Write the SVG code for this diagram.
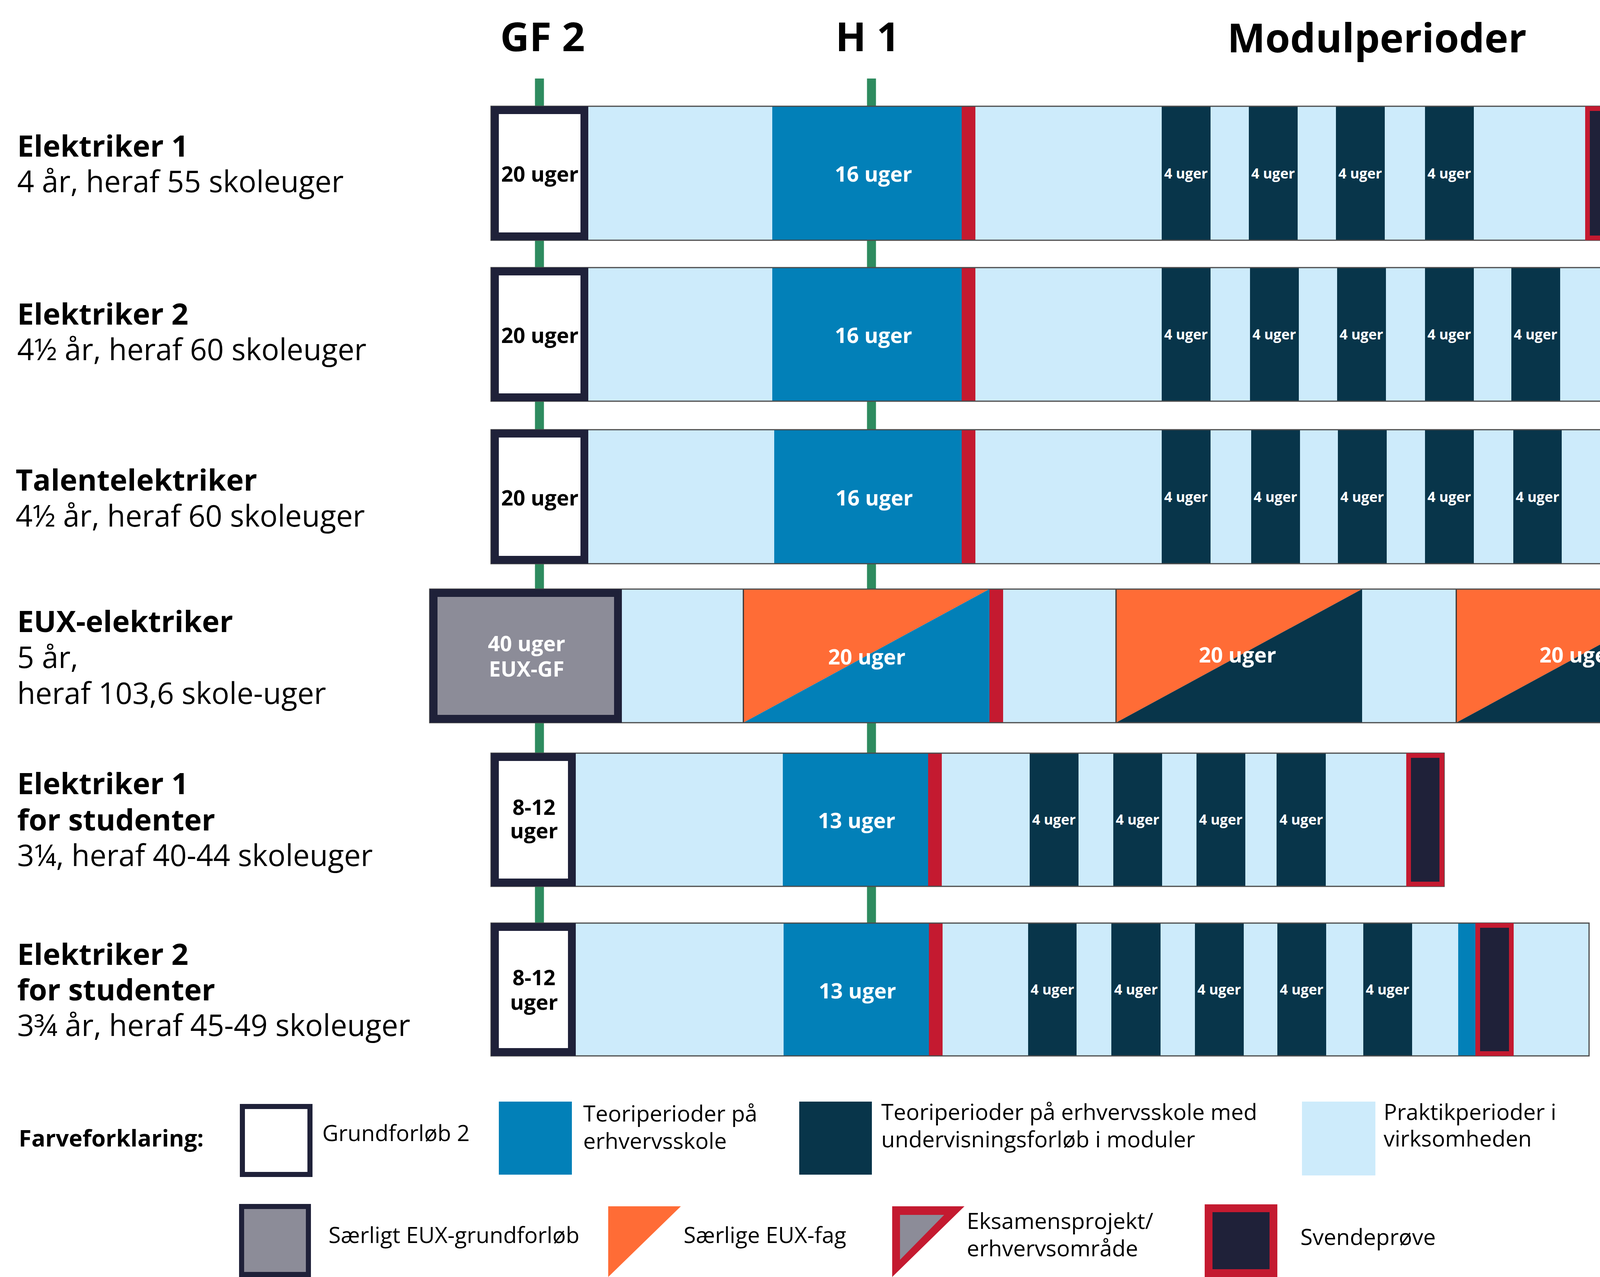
<svg xmlns="http://www.w3.org/2000/svg" width="5142" height="3269" viewBox="0 0 5142 3269">
<style>
  text { font-family: "Open Sans", "Noto Sans", "DejaVu Sans", sans-serif; }
  .hdr { font-size: 103px; font-weight: 700; fill: #000; text-anchor: middle; }
  .lb { font-size: 76px; font-weight: 700; fill: #000; }
  .lr { font-size: 76px; font-weight: 400; fill: #000; }
  .bk { font-size: 54px; font-weight: 700; fill: #000; text-anchor: middle; }
  .bw { font-size: 54px; font-weight: 700; fill: #fff; text-anchor: middle; }
  .mw { font-size: 36px; font-weight: 700; fill: #fff; text-anchor: middle; }
  .lg { font-size: 57px; font-weight: 400; fill: #000; }
  .lgb { font-size: 59px; font-weight: 700; fill: #000; }
  .pr { fill: #CDEBFB; }
  .te { fill: #0280B8; }
  .mo { fill: #08354A; }
  .rd { fill: #C41A30; }
  .nv { fill: #1F2139; }
  .or { fill: #FF6C36; }
  .gy { fill: #8C8C98; }
  .gf { fill: #fff; stroke: #1F2139; stroke-width: 20; }
  .eg { fill: #8C8C98; stroke: #1F2139; stroke-width: 20; }
  .sv { fill: #1F2139; stroke: #C41A30; stroke-width: 12; }
  .ol { fill: none; stroke: #4a4a4a; stroke-width: 3; }
  .edge { stroke: #333; stroke-width: 3; }
  .green { stroke: #2E8B5F; stroke-width: 23; }
  .lead { fill: none; stroke: #8a8a8a; stroke-width: 3; marker-end: url(#arr); }
</style>
<defs>
  <marker id="arr" viewBox="0 0 30 20" refX="30" refY="10" markerWidth="30" markerHeight="20" markerUnits="userSpaceOnUse" orient="auto">
    <path d="M0,0 L30,10 L0,20 z" fill="#000"/>
  </marker>
</defs>
<rect x="0" y="0" width="5142" height="3269" fill="#fff"/>

<g id="headers">
  <text class="hdr" x="1389" y="131">GF 2</text>
  <text class="hdr" x="2221" y="131">H 1</text>
  <text class="hdr" x="3525" y="134">Modulperioder</text>
</g>

<g id="connectors">
  <line class="green" x1="1381" y1="201" x2="1381" y2="2363"/>
  <line class="green" x1="2231" y1="201" x2="2231" y2="2363"/>
  <polyline class="lead" points="4335,180 4116,180 4116,252"/>
  <polyline class="lead" points="4433,628 4247,628 4247,679"/>
</g>

<g id="row-elektriker1">
  <text class="lb" x="44" y="401">Elektriker 1</text>
  <text class="lr" x="44" y="492">4 år, heraf 55 skoleuger</text>
  <rect class="pr" x="1257" y="272" width="3000" height="343"/>
  <rect class="te" x="1977" y="272" width="485" height="343"/>
  <rect class="rd" x="2462" y="272" width="35" height="343"/>
  <rect class="mo" x="2974" y="272" width="125" height="343"/>
  <rect class="mo" x="3197" y="272" width="125" height="343"/>
  <rect class="mo" x="3420" y="272" width="125" height="343"/>
  <rect class="mo" x="3648" y="272" width="125" height="343"/>
  <rect class="ol" x="1257" y="272" width="3000" height="343"/>
  <rect class="gf" x="1267" y="282" width="229" height="323"/>
  <rect class="sv" x="4064" y="278" width="89" height="331"/>
  <text class="bk" x="1382" y="465">20 uger</text>
  <text class="bw" x="2236" y="465">16 uger</text>
  <text class="mw" x="3036" y="457">4 uger</text>
  <text class="mw" x="3259" y="457">4 uger</text>
  <text class="mw" x="3482" y="457">4 uger</text>
  <text class="mw" x="3710" y="457">4 uger</text>
  <text class="lr" x="4362" y="209">Svendeprøve 3 uger</text>
</g>

<g id="row-elektriker2">
  <text class="lb" x="44" y="831">Elektriker 2</text>
  <text class="lr" x="44" y="922">4½ år, heraf 60 skoleuger</text>
  <rect class="pr" x="1257" y="685" width="3373" height="342"/>
  <rect class="te" x="1977" y="685" width="485" height="342"/>
  <rect class="rd" x="2462" y="685" width="35" height="342"/>
  <rect class="mo" x="2974" y="685" width="125" height="342"/>
  <rect class="mo" x="3200" y="685" width="125" height="342"/>
  <rect class="mo" x="3423" y="685" width="125" height="342"/>
  <rect class="mo" x="3648" y="685" width="125" height="342"/>
  <rect class="mo" x="3869" y="685" width="125" height="342"/>
  <rect class="te" x="4225" y="685" width="42" height="342"/>
  <rect class="ol" x="1257" y="685" width="3373" height="342"/>
  <rect class="gf" x="1267" y="695" width="229" height="322"/>
  <rect class="sv" x="4273" y="691" width="90" height="330"/>
  <text class="bk" x="1382" y="878">20 uger</text>
  <text class="bw" x="2236" y="878">16 uger</text>
  <text class="mw" x="3036" y="869">4 uger</text>
  <text class="mw" x="3262" y="869">4 uger</text>
  <text class="mw" x="3485" y="869">4 uger</text>
  <text class="mw" x="3710" y="869">4 uger</text>
  <text class="mw" x="3931" y="869">4 uger</text>
  <text class="lr" x="4456" y="513">Udvikling og</text>
  <text class="lr" x="4456" y="601">planlægning 1 uge</text>
</g>

<g id="row-talentelektriker">
  <text class="lb" x="40" y="1256">Talentelektriker</text>
  <text class="lr" x="40" y="1348">4½ år, heraf 60 skoleuger</text>
  <rect class="pr" x="1257" y="1100" width="3373" height="343"/>
  <rect class="te" x="1982" y="1100" width="480" height="343"/>
  <rect class="rd" x="2462" y="1100" width="35" height="343"/>
  <rect class="mo" x="2974" y="1100" width="125" height="343"/>
  <rect class="mo" x="3203" y="1100" width="125" height="343"/>
  <rect class="mo" x="3425" y="1100" width="125" height="343"/>
  <rect class="mo" x="3648" y="1100" width="125" height="343"/>
  <rect class="mo" x="3874" y="1100" width="124" height="343"/>
  <rect class="te" x="4229" y="1100" width="42" height="343"/>
  <rect class="ol" x="1257" y="1100" width="3373" height="343"/>
  <rect class="gf" x="1267" y="1110" width="229" height="323"/>
  <rect class="sv" x="4277" y="1106" width="89" height="331"/>
  <text class="bk" x="1382" y="1294">20 uger</text>
  <text class="bw" x="2238" y="1294">16 uger</text>
  <text class="mw" x="3036" y="1285">4 uger</text>
  <text class="mw" x="3265" y="1285">4 uger</text>
  <text class="mw" x="3487" y="1285">4 uger</text>
  <text class="mw" x="3710" y="1285">4 uger</text>
  <text class="mw" x="3936" y="1285">4 uger</text>
</g>

<g id="row-eux">
  <text class="lb" x="44" y="1618">EUX-elektriker</text>
  <text class="lr" x="44" y="1710">5 år,</text>
  <text class="lr" x="44" y="1802">heraf 103,6 skole-uger</text>
  <rect class="pr" x="1100" y="1508" width="3750" height="342"/>
  <polygon class="or" points="1903,1508 2533,1508 1903,1850"/>
  <polygon class="te" points="2533,1508 2533,1850 1903,1850"/>
  <line class="edge" x1="1903" y1="1508" x2="1903" y2="1850"/>
  <rect class="rd" x="2533" y="1508" width="35" height="342"/>
  <polygon class="or" points="2857,1508 3487,1508 2857,1850"/>
  <polygon class="mo" points="3487,1508 3487,1850 2857,1850"/>
  <line class="edge" x1="2857" y1="1508" x2="2857" y2="1850"/>
  <polygon class="or" points="3728,1508 4358,1508 3728,1850"/>
  <polygon class="mo" points="4358,1508 4358,1850 3728,1850"/>
  <line class="edge" x1="3728" y1="1508" x2="3728" y2="1850"/>
  <polygon class="gy" points="4595,1530 4828,1530 4595,1828"/>
  <polygon class="nv" points="4828,1530 4828,1828 4595,1828"/>
  <rect x="4584" y="1519" width="255" height="320" fill="none" stroke="#C41A30" stroke-width="22"/>
  <rect class="ol" x="1100" y="1508" width="3750" height="342"/>
  <rect class="eg" x="1110" y="1518" width="472" height="322"/>
  <text class="bw" x="1348" y="1667">40 uger</text>
  <text class="bw" x="1348" y="1732">EUX-GF</text>
  <text class="bw" x="2219" y="1701">20 uger</text>
  <text class="bw" x="3168" y="1696">20 uger</text>
  <text class="bw" x="4040" y="1696">20 uger</text>
  <text class="bw" x="4708" y="1671">3,6</text>
  <text class="bw" x="4708" y="1735">uger</text>
</g>

<g id="row-elektriker1-studenter">
  <text class="lb" x="44" y="2033">Elektriker 1</text>
  <text class="lb" x="44" y="2126">for studenter</text>
  <text class="lr" x="44" y="2217">3¼, heraf 40-44 skoleuger</text>
  <rect class="pr" x="1257" y="1928" width="2440" height="341"/>
  <rect class="te" x="2004" y="1928" width="372" height="341"/>
  <rect class="rd" x="2376" y="1928" width="35" height="341"/>
  <rect class="mo" x="2636" y="1928" width="125" height="341"/>
  <rect class="mo" x="2850" y="1928" width="125" height="341"/>
  <rect class="mo" x="3063" y="1928" width="125" height="341"/>
  <rect class="mo" x="3268" y="1928" width="126" height="341"/>
  <rect class="ol" x="1257" y="1928" width="2440" height="341"/>
  <rect class="gf" x="1267" y="1938" width="197" height="321"/>
  <rect class="sv" x="3606" y="1934" width="85" height="329"/>
  <text class="bk" x="1367" y="2086">8-12</text>
  <text class="bk" x="1367" y="2146">uger</text>
  <text class="bw" x="2193" y="2120">13 uger</text>
  <text class="mw" x="2698" y="2111">4 uger</text>
  <text class="mw" x="2912" y="2111">4 uger</text>
  <text class="mw" x="3125" y="2111">4 uger</text>
  <text class="mw" x="3331" y="2111">4 uger</text>
</g>

<g id="row-elektriker2-studenter">
  <text class="lb" x="44" y="2470">Elektriker 2</text>
  <text class="lb" x="44" y="2561">for studenter</text>
  <text class="lr" x="44" y="2652">3¾ år, heraf 45-49 skoleuger</text>
  <rect class="pr" x="1257" y="2363" width="2811" height="340"/>
  <rect class="te" x="2006" y="2363" width="372" height="340"/>
  <rect class="rd" x="2378" y="2363" width="35" height="340"/>
  <rect class="mo" x="2632" y="2363" width="124" height="340"/>
  <rect class="mo" x="2845" y="2363" width="126" height="340"/>
  <rect class="mo" x="3059" y="2363" width="125" height="340"/>
  <rect class="mo" x="3270" y="2363" width="125" height="340"/>
  <rect class="mo" x="3490" y="2363" width="125" height="340"/>
  <rect class="te" x="3733" y="2363" width="44" height="340"/>
  <rect class="ol" x="1257" y="2363" width="2811" height="340"/>
  <rect class="gf" x="1267" y="2373" width="197" height="320"/>
  <rect class="sv" x="3783" y="2369" width="86" height="328"/>
  <text class="bk" x="1367" y="2522">8-12</text>
  <text class="bk" x="1367" y="2585">uger</text>
  <text class="bw" x="2195" y="2556">13 uger</text>
  <text class="mw" x="2694" y="2546">4 uger</text>
  <text class="mw" x="2908" y="2546">4 uger</text>
  <text class="mw" x="3121" y="2546">4 uger</text>
  <text class="mw" x="3332" y="2546">4 uger</text>
  <text class="mw" x="3552" y="2546">4 uger</text>
</g>

<g id="legend">
  <text class="lgb" x="48" y="2935">Farveforklaring:</text>
  <rect x="620.5" y="2832.5" width="173" height="174" fill="#fff" stroke="#1F2139" stroke-width="13"/>
  <text class="lg" x="825" y="2921">Grundforløb 2</text>
  <rect class="te" x="1277" y="2820" width="187" height="187"/>
  <text class="lg" x="1493" y="2871">Teoriperioder på</text>
  <text class="lg" x="1493" y="2941">erhvervsskole</text>
  <rect class="mo" x="2046" y="2820" width="186" height="187"/>
  <text class="lg" x="2256" y="2867">Teoriperioder på erhvervsskole med</text>
  <text class="lg" x="2256" y="2937">undervisningsforløb i moduler</text>
  <rect class="pr" x="3333" y="2820" width="188" height="189"/>
  <text class="lg" x="3542" y="2867">Praktikperioder i</text>
  <text class="lg" x="3542" y="2935">virksomheden</text>
  <rect x="618.5" y="3088.5" width="171" height="174" fill="#8C8C98" stroke="#1F2139" stroke-width="13"/>
  <text class="lg" x="841" y="3182">Særligt EUX-grundforløb</text>
  <polygon class="or" points="1557,3088 1743,3088 1557,3269"/>
  <text class="lg" x="1750" y="3182">Særlige EUX-fag</text>
  <polygon class="rd" points="2284,3088 2469,3088 2284,3269"/>
  <polygon class="gy" points="2304,3110 2417,3110 2304,3225"/>
  <text class="lg" x="2475" y="3146">Eksamensprojekt/</text>
  <text class="lg" x="2475" y="3216">erhvervsområde</text>
  <rect x="3094" y="3093" width="166" height="166" fill="#1F2139" stroke="#C41A30" stroke-width="20"/>
  <text class="lg" x="3329" y="3187">Svendeprøve</text>
</g>
</svg>
